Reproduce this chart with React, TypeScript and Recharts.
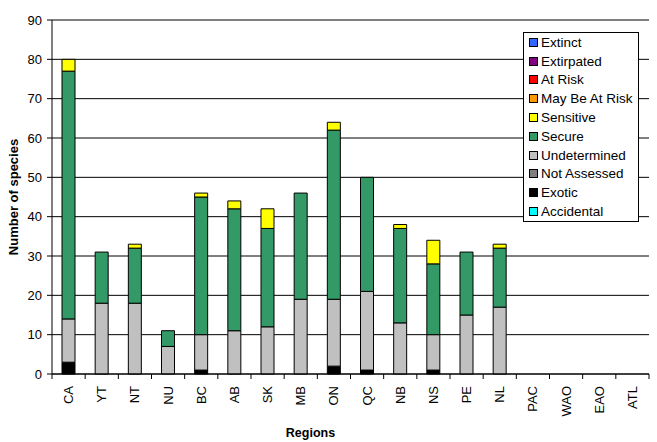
import React from 'react';
import {
  BarChart,
  Bar,
  XAxis,
  YAxis,
  CartesianGrid,
  Legend,
  Label,
} from 'recharts';

const regions = ['CA', 'YT', 'NT', 'NU', 'BC', 'AB', 'SK', 'MB', 'ON', 'QC', 'NB', 'NS', 'PE', 'NL', 'PAC', 'WAO', 'EAO', 'ATL'];

const extinct = [0, 0, 0, 0, 0, 0, 0, 0, 0, 0, 0, 0, 0, 0, 0, 0, 0, 0];
const extirpated = [0, 0, 0, 0, 0, 0, 0, 0, 0, 0, 0, 0, 0, 0, 0, 0, 0, 0];
const atRisk = [0, 0, 0, 0, 0, 0, 0, 0, 0, 0, 0, 0, 0, 0, 0, 0, 0, 0];
const mayBeAtRisk = [0, 0, 0, 0, 0, 0, 0, 0, 0, 0, 0, 0, 0, 0, 0, 0, 0, 0];
const sensitive = [3, 0, 1, 0, 1, 2, 5, 0, 2, 0, 1, 6, 0, 1, 0, 0, 0, 0];
const secure = [63, 13, 14, 4, 35, 31, 25, 27, 43, 29, 24, 18, 16, 15, 0, 0, 0, 0];
const undetermined = [11, 18, 18, 7, 9, 11, 12, 19, 17, 20, 13, 9, 15, 17, 0, 0, 0, 0];
const notAssessed = [0, 0, 0, 0, 0, 0, 0, 0, 0, 0, 0, 0, 0, 0, 0, 0, 0, 0];
const exotic = [3, 0, 0, 0, 1, 0, 0, 0, 2, 1, 0, 1, 0, 0, 0, 0, 0, 0];
const accidental = [0, 0, 0, 0, 0, 0, 0, 0, 0, 0, 0, 0, 0, 0, 0, 0, 0, 0];

const yTicks = [0, 10, 20, 30, 40, 50, 60, 70, 80, 90];

// legend order (top of stack first), as in the original
const series = [
  { key: 'extinct', name: 'Extinct', color: '#3366FF', values: extinct },
  { key: 'extirpated', name: 'Extirpated', color: '#800080', values: extirpated },
  { key: 'atRisk', name: 'At Risk', color: '#FF0000', values: atRisk },
  { key: 'mayBeAtRisk', name: 'May Be At Risk', color: '#FF9900', values: mayBeAtRisk },
  { key: 'sensitive', name: 'Sensitive', color: '#FFFF00', values: sensitive },
  { key: 'secure', name: 'Secure', color: '#339966', values: secure },
  { key: 'undetermined', name: 'Undetermined', color: '#C0C0C0', values: undetermined },
  { key: 'notAssessed', name: 'Not Assessed', color: '#808080', values: notAssessed },
  { key: 'exotic', name: 'Exotic', color: '#000000', values: exotic },
  { key: 'accidental', name: 'Accidental', color: '#00FFFF', values: accidental },
];

const data = regions.map((r, i) => {
  const row: Record<string, string | number> = { region: r };
  series.forEach((s) => {
    row[s.key] = s.values[i];
  });
  return row;
});

const W = 657;
const H = 442;
const M = { top: 20, right: 8, left: 0, bottom: 0 };
const Y_W = 52;
const X_H = 68;
const BAND = (W - M.left - M.right - Y_W) / regions.length;
const FONT = 'Arial, "Liberation Sans", sans-serif';

const XTick = (props: any) => {
  const { x, y, payload, index } = props;
  const left = x - BAND / 2;
  return (
    <g>
      <line x1={left} x2={left} y1={y} y2={y + 5} stroke="#000" />
      {index === regions.length - 1 && (
        <line x1={x + BAND / 2} x2={x + BAND / 2} y1={y} y2={y + 5} stroke="#000" />
      )}
      <text
        x={x + 4.5}
        y={y + 12}
        transform={`rotate(-90, ${x + 4.5}, ${y + 12})`}
        textAnchor="end"
        fontSize={13}
        fontFamily={FONT}
        fill="#000"
      >
        {payload.value}
      </text>
    </g>
  );
};

const LegendBox = () => (
  <div
    style={{
      border: '1px solid #000',
      background: '#fff',
      padding: '0 5px 0 5px',
      fontFamily: FONT,
      fontSize: 13.5,
      color: '#000',
    }}
  >
    {series.map((s) => (
      <div key={s.key} style={{ display: 'flex', alignItems: 'center', height: 18.8 }}>
        <span
          style={{
            display: 'inline-block',
            width: 7,
            height: 7,
            background: s.color,
            border: '1px solid #000',
            marginRight: 3,
          }}
        />
        <span style={{ whiteSpace: 'nowrap' }}>{s.name}</span>
      </div>
    ))}
  </div>
);

const App = () => {
  const stackOrder = [...series].reverse();
  return (
    <div style={{ position: 'absolute', left: 0, top: 0, width: W, height: H, background: '#fff' }}>
      <BarChart width={W} height={H} data={data} margin={M} barSize={13}>
        <CartesianGrid horizontal vertical={false} stroke="#000" strokeWidth={1} />
        <XAxis
          dataKey="region"
          height={X_H}
          interval={0}
          tickLine={false}
          tickSize={0}
          tickMargin={0}
          axisLine={{ stroke: '#000' }}
          tick={<XTick />}
        >
          <Label
            value="Regions"
            position="insideBottom"
            offset={5}
            dx={-40}
            style={{ fontFamily: FONT, fontSize: 12.5, fontWeight: 'bold', fill: '#000' }}
          />
        </XAxis>
        <YAxis
          width={Y_W}
          domain={[0, 90]}
          ticks={yTicks}
          interval={0}
          tickSize={5}
          tickMargin={5}
          axisLine={{ stroke: '#000' }}
          tickLine={{ stroke: '#000' }}
          tick={{ fill: '#000', fontSize: 13, fontFamily: FONT }}
        >
          <Label
            value="Number of species"
            angle={-90}
            position="insideLeft"
            offset={13}
            style={{ textAnchor: 'middle', fontFamily: FONT, fontSize: 13, fontWeight: 'bold', fill: '#000' }}
          />
        </YAxis>
        <YAxis
          yAxisId="frame"
          orientation="right"
          width={0}
          domain={[0, 90]}
          tick={false}
          tickLine={false}
          axisLine={{ stroke: '#000' }}
        />
        {stackOrder.map((s) => (
          <Bar
            key={s.key}
            dataKey={s.key}
            name={s.name}
            stackId="a"
            fill={s.color}
            stroke="#000"
            strokeWidth={1}
            isAnimationActive={false}
          />
        ))}
        <Legend
          layout="vertical"
          align="center"
          verticalAlign="middle"
          wrapperStyle={{ left: 523, top: 32, width: 'auto' }}
          content={<LegendBox />}
        />
      </BarChart>
    </div>
  );
};

export default App;
